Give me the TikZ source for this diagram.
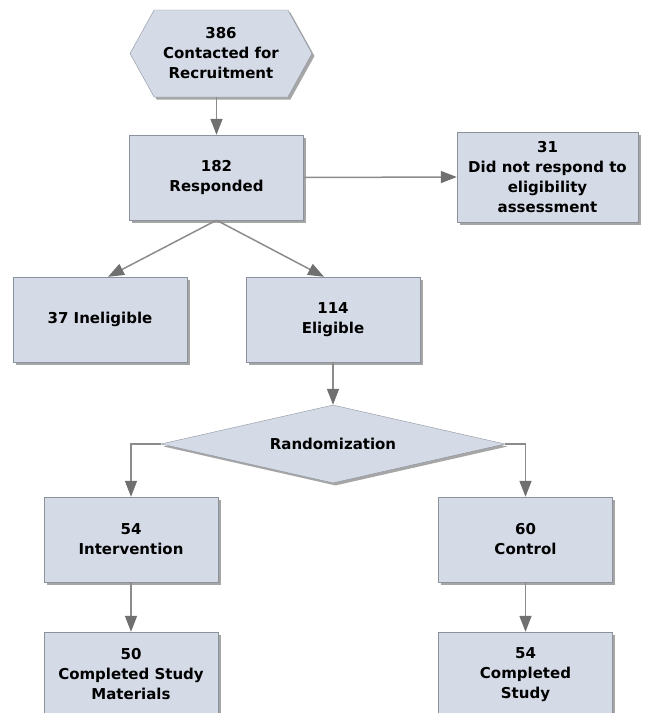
\documentclass[tikz,border=0pt]{standalone}
\usepackage{fontspec}
\setmainfont{DejaVu Sans}
\usepackage{xcolor}
\usetikzlibrary{shapes.geometric, shapes.symbols, arrows.meta, shadows}

\definecolor{boxfill}{RGB}{212,219,231}
\definecolor{boxline}{RGB}{140,146,156}
\definecolor{arrline}{RGB}{140,140,140}
\definecolor{arrtip}{RGB}{112,112,112}

\begin{document}
\begin{tikzpicture}[
  x=1pt, y=-1pt,
  every node/.style = {font=\fontsize{15}{20}\selectfont\bfseries, align=center},
  shade/.style  = {drop shadow={shadow xshift=2.5pt, shadow yshift=-2.5pt,
                   fill=black, opacity=0.35}},
  box/.style    = {draw=boxline, fill=boxfill, shade,
                   minimum width=174pt, minimum height=85pt, inner sep=2pt},
  hexa/.style   = {draw=boxline, fill=boxfill, shade, signal,
                   signal to=west and east, signal pointer angle=122,
                   minimum width=182pt, minimum height=87pt, inner sep=1pt},
  decide/.style = {draw=boxline, fill=boxfill, shade, diamond, aspect=4.4,
                   minimum width=344pt, minimum height=78pt, inner sep=0pt},
  arr/.style    = {draw=arrline, line width=1.5pt,
                   -{Triangle[length=16pt, width=12pt, color=arrtip]}}
]
\useasboundingbox (0,0) rectangle (649,713);

% Nodes
\node[hexa]   (hex)   at (221,53.5)   {386\\Contacted for\\Recruitment};
\node[box]    (resp)  at (216.5,177.5) {182\\Responded};
\node[box, minimum width=181pt, minimum height=90pt]
              (nores) at (547.5,177)   {31\\Did not respond to\\eligibility\\assessment};
\node[box]    (inel)  at (100,319.5)   {37 Ineligible};
\node[box]    (elig)  at (333,319.5)   {114\\Eligible};
\node[decide] (rand)  at (333,444)     {Randomization};
\node[box]    (inter) at (131,539.5)   {54\\Intervention};
\node[box]    (ctrl)  at (525.5,539.5) {60\\Control};
\node[box]    (done1) at (131,674.5)   {50\\Completed Study\\Materials};
\node[box]    (done2) at (525.5,674.5) {54\\Completed\\Study};

% Arrows
\draw[arr] (hex.south -| resp.north) -- (resp.north);
\draw[arr] (resp.east) -- (nores.west);
\draw[arr] (resp.south) -- ([xshift=8pt]inel.north);
\draw[arr] (resp.south) -- ([xshift=-9pt]elig.north);
\draw[arr] (elig.south) -- (rand.north);
\draw[arr] (rand.west) -| (inter.north);
\draw[arr] (rand.east) -| (ctrl.north);
\draw[arr] (inter.south) -- (done1.north);
\draw[arr] (ctrl.south) -- (done2.north);
\end{tikzpicture}
\end{document}
